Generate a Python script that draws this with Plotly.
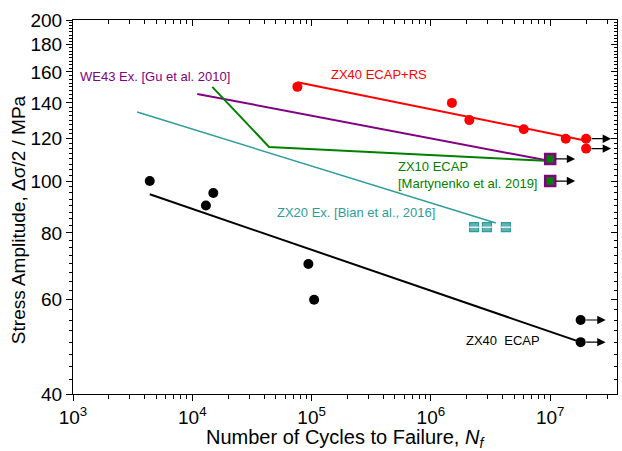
import numpy as np
import plotly.graph_objects as go

# ---------------- data ----------------
# ZX40 ECAP (black)
zx40_ecap_N = [4.4e3, 1.3e4, 1.5e4, 9.4e4, 1.05e5, 1.8e7, 1.8e7]
zx40_ecap_S = [100, 90, 95, 70, 60, 55, 50]
zx40_ecap_runout = [False, False, False, False, False, True, True]
zx40_ecap_fit_N = [4.4e3, 1.8e7]
zx40_ecap_fit_S = [94.5, 50]

# ZX40 ECAP+RS (red)
zx40_rs_N = [7.6e4, 1.5e6, 2.1e6, 6.0e6, 1.35e7, 2.0e7, 2.0e7]
zx40_rs_S = [150, 140, 130, 125, 120, 120, 115]
zx40_rs_runout = [False, False, False, False, False, True, True]
zx40_rs_fit_N = [7.6e4, 2.0e7]
zx40_rs_fit_S = [153, 119]

# WE43 Ex. [Gu et al. 2010] (purple)
we43_fit_N = [1.1e4, 1.0e7]
we43_fit_S = [145.5, 109]

# ZX10 ECAP [Martynenko et al. 2019] (green)
zx10_fit_N = [1.47e4, 4.4e4, 1.0e7]
zx10_fit_S = [150, 115.8, 109]
zx10_N = [1.0e7, 1.0e7]
zx10_S = [110, 100]
zx10_runout = [True, True]

# ZX20 Ex. [Bian et al., 2016] (teal)
zx20_fit_N = [3.45e3, 3.5e6]
zx20_fit_S = [134.6, 83.5]
zx20_N = [2.3e6, 2.95e6, 4.25e6]
zx20_S = [82, 82, 82]

# axis ticks
x_major = [1e3, 1e4, 1e5, 1e6, 1e7]
x_major_text = ["10<sup>3</sup>", "10<sup>4</sup>", "10<sup>5</sup>", "10<sup>6</sup>", "10<sup>7</sup>"]
y_major = [40, 60, 80, 100, 120, 140, 160, 180, 200]
y_major_text = ["40", "60", "80", "100", "120", "140", "160", "180", "200"]

# ---------------- styling ----------------
FONT = "Liberation Sans, Arial, sans-serif"
BLACK = "#000000"
RED = "#ff0000"
PURPLE = "#800080"
GREEN = "#008000"
TEAL = "#2f9c9c"

x_minor = [m * 10 ** e for e in range(3, 8) for m in range(2, 10) if m * 10 ** e <= 4e7]
y_minor = list(np.arange(40, 200.01, 2.5))

fig = go.Figure()

def line(N, S, color, width):
    fig.add_trace(go.Scatter(x=N, y=S, mode="lines", line=dict(color=color, width=width),
                             showlegend=False, hoverinfo="skip"))

line(zx20_fit_N, zx20_fit_S, TEAL, 1.5)
line(we43_fit_N, we43_fit_S, PURPLE, 2)
line(zx10_fit_N, zx10_fit_S, GREEN, 2)
line(zx40_rs_fit_N, zx40_rs_fit_S, RED, 2)
line(zx40_ecap_fit_N, zx40_ecap_fit_S, BLACK, 2)

# ZX20 squares (half-filled look)
fig.add_trace(go.Scatter(x=zx20_N, y=zx20_S, mode="markers",
                         marker=dict(symbol="square", size=9, color="#5fb3b3",
                                     line=dict(color=TEAL, width=1.2)),
                         showlegend=False))
fig.add_trace(go.Scatter(x=zx20_N, y=zx20_S, mode="markers",
                         marker=dict(symbol="line-ew", size=7,
                                     line=dict(color="white", width=1.2)),
                         showlegend=False))

# ZX10 squares
fig.add_trace(go.Scatter(x=zx10_N, y=zx10_S, mode="markers",
                         marker=dict(symbol="square", size=10, color=GREEN,
                                     line=dict(color=PURPLE, width=2.5)),
                         showlegend=False))

# red dots
fig.add_trace(go.Scatter(x=zx40_rs_N, y=zx40_rs_S, mode="markers",
                         marker=dict(symbol="circle", size=10, color=RED),
                         showlegend=False))
# black dots
fig.add_trace(go.Scatter(x=zx40_ecap_N, y=zx40_ecap_S, mode="markers",
                         marker=dict(symbol="circle", size=10, color=BLACK),
                         showlegend=False))

# dummy trace for mirrored axes
fig.add_trace(go.Scatter(x=[None], y=[None], xaxis="x2", yaxis="y2", showlegend=False))

annotations = []
# run-out arrows
ARROW_LEN = 25
for Ns, Ss, flags in [(zx40_ecap_N, zx40_ecap_S, zx40_ecap_runout),
                      (zx40_rs_N, zx40_rs_S, zx40_rs_runout),
                      (zx10_N, zx10_S, zx10_runout)]:
    for n, s, f in zip(Ns, Ss, flags):
        if f:
            annotations.append(dict(x=np.log10(n), y=np.log10(s), xref="x", yref="y",
                                    text="", showarrow=True, ax=-ARROW_LEN, ay=0,
                                    xshift=ARROW_LEN, arrowhead=2, arrowsize=1.4,
                                    arrowwidth=1.2, arrowcolor=BLACK, startstandoff=4))

# text labels
labels = [
    ("WE43 Ex. [Gu et al. 2010]", 1.1e3, 157, PURPLE),
    ("ZX40 ECAP+RS", 1.41e5, 158, RED),
    ("ZX10 ECAP<br>[Martynenko et al. 2019]", 5.1e5, 102.5, GREEN),
    ("ZX20 Ex. [Bian et al., 2016]", 4.9e4, 87.2, TEAL),
    ("ZX40  ECAP", 1.9e6, 50.4, BLACK),
]
for t, lx, ly, c in labels:
    annotations.append(dict(x=np.log10(lx), y=np.log10(ly), xref="x", yref="y",
                            text=t, showarrow=False, xanchor="left", yanchor="middle",
                            align="left", font=dict(family=FONT, size=13, color=c)))

# axis titles
annotations.append(dict(x=0.5, y=-0.12, xref="paper", yref="paper",
                        text="Number of Cycles to Failure, <i>N<sub>f</sub></i>",
                        showarrow=False, xanchor="center", yanchor="middle",
                        font=dict(family=FONT, size=20, color="black")))
annotations.append(dict(x=-0.101, y=0.465, xref="paper", yref="paper",
                        text="Stress Amplitude, Δσ/2 / MPa", textangle=-90,
                        showarrow=False, xanchor="center", yanchor="middle",
                        font=dict(family=FONT, size=19, color="black")))

xr = [3, 7.56]
yr = [np.log10(40), np.log10(200)]

common_x = dict(type="log", range=xr, tickvals=x_major, ticktext=x_major_text,
                showline=True, linecolor="black", linewidth=1, showgrid=False,
                zeroline=False, ticklen=6, tickcolor="black", tickwidth=1, automargin=False,
                minor=dict(tickvals=x_minor, ticklen=3.5, tickcolor="black", tickwidth=1, showgrid=False))
common_y = dict(type="log", range=yr, tickvals=y_major, ticktext=y_major_text,
                showline=True, linecolor="black", linewidth=1, showgrid=False,
                zeroline=False, ticklen=6, tickcolor="black", tickwidth=1, automargin=False,
                minor=dict(tickvals=y_minor, ticklen=3.5, tickcolor="black", tickwidth=1, showgrid=False))

fig.update_layout(
    width=622, height=451,
    margin=dict(l=73, r=5, t=20, b=57, autoexpand=False),
    paper_bgcolor="white", plot_bgcolor="white",
    font=dict(family=FONT, size=19, color="black"),
    annotations=annotations,
    xaxis=dict(**common_x, ticks="outside", tickfont=dict(size=19)),
    yaxis=dict(**common_y, ticks="outside", tickfont=dict(size=19)),
    xaxis2=dict(**common_x, ticks="inside", overlaying="x", side="top", anchor="y",
                showticklabels=False),
    yaxis2=dict(**common_y, ticks="inside", overlaying="y", side="right", anchor="x",
                showticklabels=False),
    showlegend=False,
)
fig.layout.xaxis.minor.ticks = "outside"
fig.layout.yaxis.minor.ticks = "outside"
fig.layout.xaxis2.minor.ticks = "inside"
fig.layout.yaxis2.minor.ticks = "inside"

fig.write_html("out.html", config={"displayModeBar": False},
               post_script="document.body.style.margin='0px';document.body.style.overflow='hidden';")
